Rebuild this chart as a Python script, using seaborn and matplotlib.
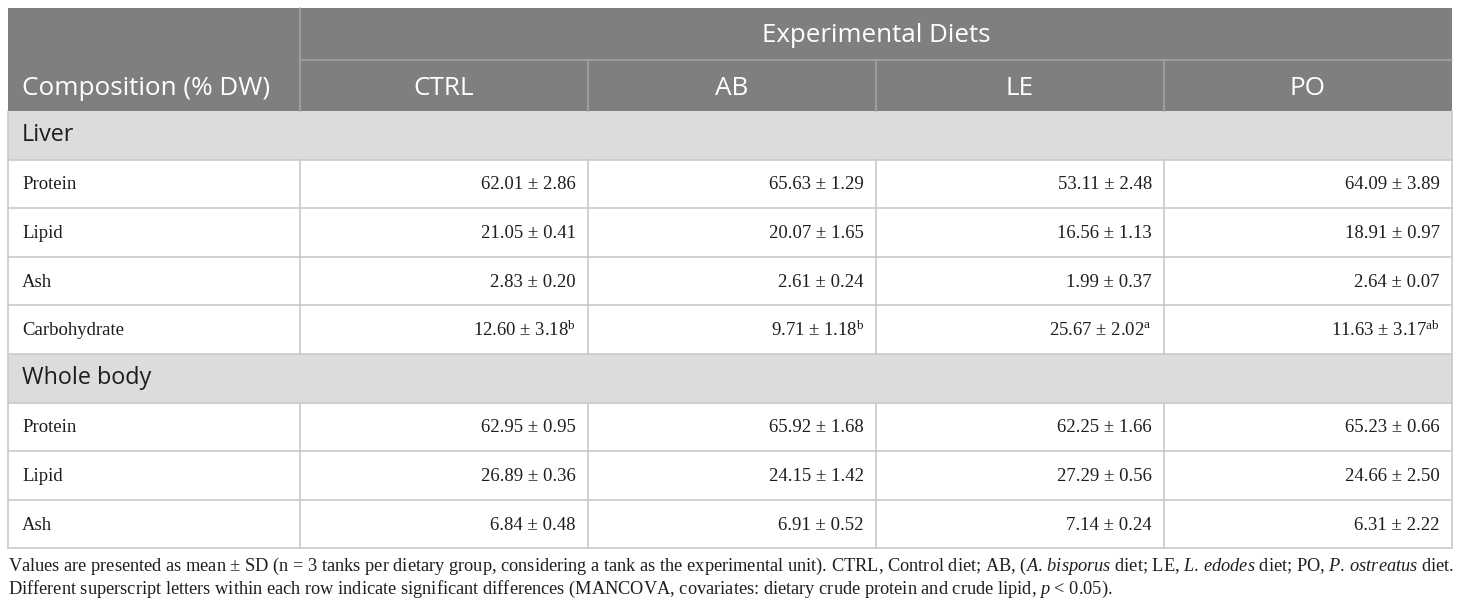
import numpy as np
import matplotlib
matplotlib.use("Agg")
import matplotlib.pyplot as plt
import seaborn as sns

# table contents
diets = ["CTRL", "AB", "LE", "PO"]
first_col_title = "Composition (% DW)"
group_title = "Experimental Diets"

liver_rows = ["Protein", "Lipid", "Ash", "Carbohydrate"]
liver_mean = [[62.01, 65.63, 53.11, 64.09],
              [21.05, 20.07, 16.56, 18.91],
              [2.83, 2.61, 1.99, 2.64],
              [12.60, 9.71, 25.67, 11.63]]
liver_sd = [[2.86, 1.29, 2.48, 3.89],
            [0.41, 1.65, 1.13, 0.97],
            [0.20, 0.24, 0.37, 0.07],
            [3.18, 1.18, 2.02, 3.17]]
liver_sup = [["", "", "", ""],
             ["", "", "", ""],
             ["", "", "", ""],
             ["b", "b", "a", "ab"]]

body_rows = ["Protein", "Lipid", "Ash"]
body_mean = [[62.95, 65.92, 62.25, 65.23],
             [26.89, 24.15, 27.29, 24.66],
             [6.84, 6.91, 7.14, 6.31]]
body_sd = [[0.95, 1.68, 1.66, 0.66],
           [0.36, 1.42, 0.56, 2.50],
           [0.48, 0.52, 0.24, 2.22]]
body_sup = [["", "", "", ""]] * 3

sections = [("Liver", liver_rows, liver_mean, liver_sd, liver_sup),
            ("Whole body", body_rows, body_mean, body_sd, body_sup)]

footnote = [
    "Values are presented as mean ± SD (n = 3 tanks per dietary group, considering a tank as the experimental unit). "
    "CTRL, Control diet; AB, ($A.\\,bisporus$ diet; LE, $L.\\,edodes$ diet; PO, $P.\\,ostreatus$ diet.",
    "Different superscript letters within each row indicate significant differences "
    "(MANCOVA, covariates: dietary crude protein and crude lipid, $p$ < 0.05).",
]

sns.set_theme(style="white")
plt.rcParams["mathtext.fontset"] = "custom"
plt.rcParams["mathtext.rm"] = "Liberation Serif"
plt.rcParams["mathtext.it"] = "Liberation Serif:italic"

fig = plt.figure(figsize=(14.6, 6.1), dpi=100)
ax = fig.add_axes([0, 0, 1, 1])
ax.set_xlim(0, 1460)
ax.set_ylim(610, 0)
ax.axis("off")

hdr_bg = "#7f7f7f"
sec_bg = "#dcdcdc"
grid = "#c9c9c9"
hdr_line = "#a3a3a3"
ink = "#1e1e1e"
sans = "Open Sans"
serif = "Liberation Serif"

edges = [8, 300, 588, 876, 1164, 1452]
top, mid, hbot = 8, 60, 111
row_h = 48.6
pad = 14

# header block
ax.add_patch(plt.Rectangle((edges[0], top), edges[-1] - edges[0], hbot - top,
                           color=hdr_bg, lw=0))
ax.plot([edges[1], edges[-1]], [mid, mid], color=hdr_line, lw=1.2)
for x in edges[1:-1]:
    y0 = top if x == edges[1] else mid
    ax.plot([x, x], [y0, hbot], color=hdr_line, lw=1.2)
ax.text((edges[1] + edges[-1]) / 2, (top + mid) / 2 + 2, group_title, color="white",
        fontsize=18.6, family=sans, ha="center", va="center")
ax.text(edges[0] + pad, (mid + hbot) / 2 + 3, first_col_title, color="white",
        fontsize=18.8, family=sans, ha="left", va="center")
for j, d in enumerate(diets):
    ax.text((edges[j + 1] + edges[j + 2]) / 2, (mid + hbot) / 2 + 3, d, color="white",
            fontsize=18.8, family=sans, ha="center", va="center")

# body rows
y = hbot
for title, rows, means, sds, sups in sections:
    ax.add_patch(plt.Rectangle((edges[0], y), edges[-1] - edges[0], row_h,
                               color=sec_bg, lw=0))
    ax.text(edges[0] + pad, y + row_h / 2, title, fontsize=16.8, family=sans,
            color=ink, ha="left", va="center")
    ax.plot([edges[0], edges[-1]], [y + row_h, y + row_h], color=grid, lw=1.2)
    y += row_h
    for i, name in enumerate(rows):
        ax.text(edges[0] + pad, y + row_h / 2 + 1, name, fontsize=13.5, family=serif,
                color=ink, ha="left", va="center")
        for j in range(len(diets)):
            s = f"{means[i][j]:.2f} ± {sds[i][j]:.2f}"
            if sups[i][j]:
                s += r"$^{\mathrm{" + sups[i][j] + "}}$"
            ax.text(edges[j + 2] - 12, y + row_h / 2 + 1, s, fontsize=13.5,
                    family=serif, color=ink, ha="right", va="center")
            ax.plot([edges[j + 1], edges[j + 1]], [y, y + row_h], color=grid, lw=1.2)
        ax.plot([edges[0], edges[-1]], [y + row_h, y + row_h], color=grid, lw=1.2)
        y += row_h

# outer border
ax.plot([edges[0], edges[0]], [hbot, y], color=grid, lw=1.2)
ax.plot([edges[-1], edges[-1]], [hbot, y], color=grid, lw=1.2)

for k, line in enumerate(footnote):
    ax.text(edges[0], y + 18 + k * 23, line, fontsize=13.2, family=serif,
            color=ink, ha="left", va="center")

fig.savefig("out.png", dpi=100)
